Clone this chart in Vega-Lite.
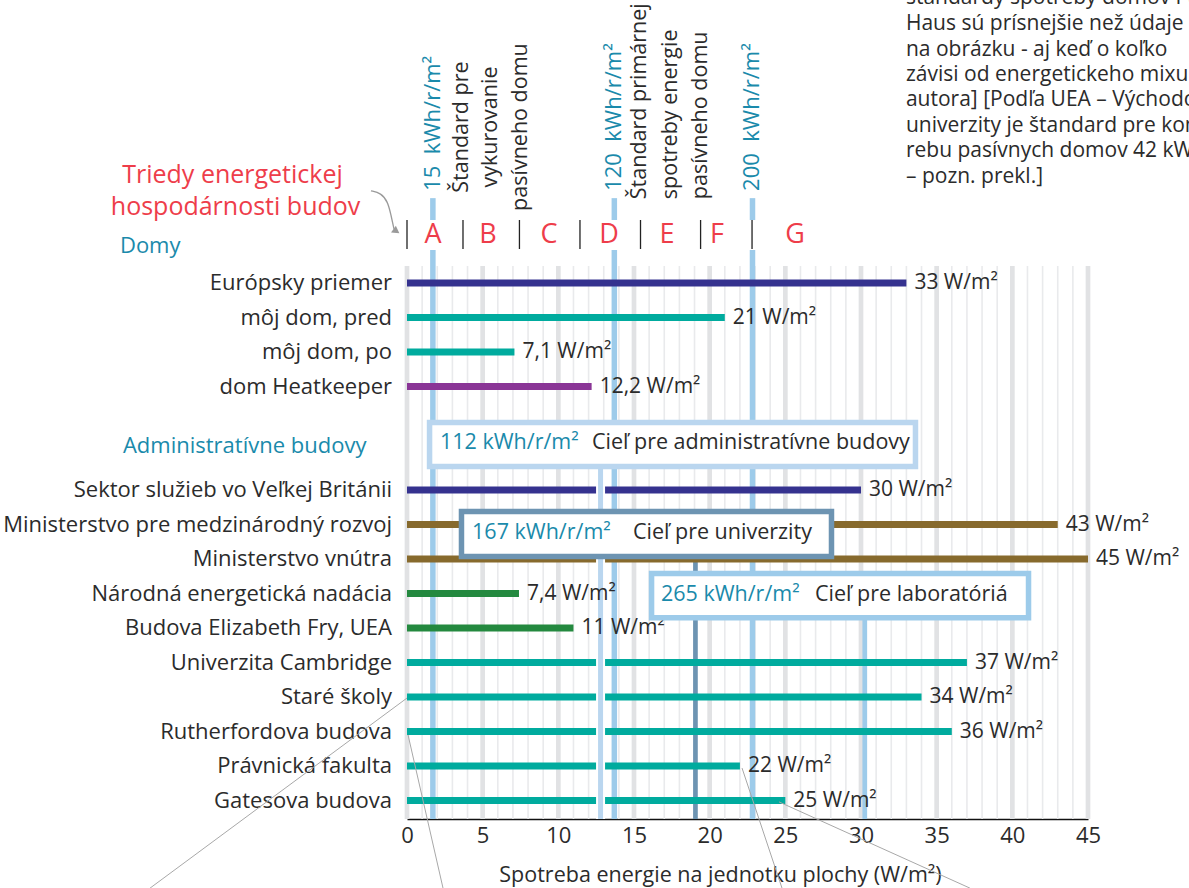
{
  "$schema": "https://vega.github.io/schema/vega-lite/v6.json",
  "width": 681,
  "height": 553,
  "autosize": {"type": "none"},
  "padding": {"left": 407, "top": 266, "right": 101, "bottom": 69},
  "background": "white",
  "config": {
    "view": {"stroke": null},
    "font": "Open Sans",
    "axisX": {
      "domainColor": "#111111", "domainWidth": 1.5, "ticks": false, "grid": false, "labelFlush": false, "labelOverlap": false,
      "labelFont": "Open Sans", "labelFontSize": 22, "labelColor": "#2b2b2b", "labelPadding": 6,
      "titleFont": "Open Sans", "titleFontSize": 21.5, "titleFontWeight": "normal", "titleColor": "#2b2b2b", "titlePadding": 18
    }
  },
  "datasets": {
    "bars": [
      {"name": "Európsky priemer", "row": 0, "from": 0, "value": 33, "kind": "priemer", "label": "33 W/m²"},
      {"name": "môj dom, pred", "row": 1, "from": 0, "value": 21, "kind": "autor", "label": "21 W/m²"},
      {"name": "môj dom, po", "row": 2, "from": 0, "value": 7.1, "kind": "autor", "label": "7,1 W/m²"},
      {"name": "dom Heatkeeper", "row": 3, "from": 0, "value": 12.2, "kind": "Heatkeeper", "label": "12,2 W/m²"},
      {"name": "Sektor služieb vo Veľkej Británii", "row": 6, "from": 0, "value": 30, "kind": "priemer", "label": "30 W/m²"},
      {"name": "Ministerstvo pre medzinárodný rozvoj", "row": 7, "from": 0, "value": 43, "kind": "ministerstvo", "label": "43 W/m²"},
      {"name": "Ministerstvo vnútra", "row": 8, "from": 0, "value": 45, "kind": "ministerstvo", "label": "45 W/m²"},
      {"name": "Národná energetická nadácia", "row": 9, "from": 0, "value": 7.4, "kind": "nízkoenergetické", "label": "7,4 W/m²"},
      {"name": "Budova Elizabeth Fry, UEA", "row": 10, "from": 0, "value": 11, "kind": "nízkoenergetické", "label": "11 W/m²"},
      {"name": "Univerzita Cambridge", "row": 11, "from": 0, "value": 37, "kind": "autor", "label": "37 W/m²"},
      {"name": "Staré školy", "row": 12, "from": 0, "value": 34, "kind": "autor", "label": "34 W/m²"},
      {"name": "Rutherfordova budova", "row": 13, "from": 0, "value": 36, "kind": "autor", "label": "36 W/m²"},
      {"name": "Právnická fakulta", "row": 14, "from": 0, "value": 22, "kind": "autor", "label": "22 W/m²"},
      {"name": "Gatesova budova", "row": 15, "from": 0, "value": 25, "kind": "autor", "label": "25 W/m²"}
    ],
    "stripes": [
      {"v": 0, "major": true}, {"v": 1, "major": false}, {"v": 2, "major": false}, {"v": 3, "major": false}, {"v": 4, "major": false},
      {"v": 5, "major": true}, {"v": 6, "major": false}, {"v": 7, "major": false}, {"v": 8, "major": false}, {"v": 9, "major": false},
      {"v": 10, "major": true}, {"v": 11, "major": false}, {"v": 12, "major": false}, {"v": 13, "major": false}, {"v": 14, "major": false},
      {"v": 15, "major": true}, {"v": 16, "major": false}, {"v": 17, "major": false}, {"v": 18, "major": false}, {"v": 19, "major": false},
      {"v": 20, "major": true}, {"v": 21, "major": false}, {"v": 22, "major": false}, {"v": 23, "major": false}, {"v": 24, "major": false},
      {"v": 25, "major": true}, {"v": 26, "major": false}, {"v": 27, "major": false}, {"v": 28, "major": false}, {"v": 29, "major": false},
      {"v": 30, "major": true}, {"v": 31, "major": false}, {"v": 32, "major": false}, {"v": 33, "major": false}, {"v": 34, "major": false},
      {"v": 35, "major": true}, {"v": 36, "major": false}, {"v": 37, "major": false}, {"v": 38, "major": false}, {"v": 39, "major": false},
      {"v": 40, "major": true}, {"v": 41, "major": false}, {"v": 42, "major": false}, {"v": 43, "major": false}, {"v": 44, "major": false},
      {"v": 45, "major": true}
    ],
    "segs": [
      {"kind": "std", "x": 1.71, "y": -2.46, "y2": -1.826},
      {"kind": "std", "x": 13.7, "y": -2.46, "y2": -1.826},
      {"kind": "std", "x": 22.83, "y": -2.46, "y2": -1.826},
      {"kind": "std", "x": 1.71, "y": -0.957, "y2": 15.536},
      {"kind": "std", "x": 13.7, "y": -0.957, "y2": 15.536},
      {"kind": "std", "x": 22.83, "y": -0.957, "y2": 15.536},
      {"kind": "univ", "x": 19.06, "y": 7.5, "y2": 15.536},
      {"kind": "labs", "x": 30.25, "y": 9.2, "y2": 15.536},
      {"kind": "admin", "x": 12.79, "y": 5.0, "y2": 15.536},
      {"kind": "bound", "x": 0, "y": -1.826, "y2": -0.986},
      {"kind": "bound", "x": 3.7, "y": -1.826, "y2": -0.986},
      {"kind": "bound", "x": 7.43, "y": -1.826, "y2": -0.986},
      {"kind": "bound", "x": 11.43, "y": -1.826, "y2": -0.986},
      {"kind": "bound", "x": 15.43, "y": -1.826, "y2": -0.986},
      {"kind": "bound", "x": 19.4, "y": -1.826, "y2": -0.986},
      {"kind": "bound", "x": 22.8, "y": -1.826, "y2": -0.986}
    ],
    "boxes": [
      {"kwh": 112, "x": 1.49, "x2": 33.6, "y": 4.04, "y2": 5.32},
      {"kwh": 167, "x": 3.6, "x2": 28.05, "y": 6.62, "y2": 7.93},
      {"kwh": 265, "x": 16.16, "x2": 41.07, "y": 8.42, "y2": 9.7}
    ],
    "notes": [
      {"kind": "header", "x": -18.97, "y": -1.07, "text": "Domy"},
      {"kind": "header", "x": -18.77, "y": 4.72, "text": "Administratívne budovy"},
      {"kind": "title", "x": -11.53, "y": -3.13, "text": "Triedy energetickej"},
      {"kind": "title", "x": -11.33, "y": -2.2, "text": "hospodárnosti budov"},
      {"kind": "class", "x": 1.72, "y": -1.39, "text": "A"},
      {"kind": "class", "x": 5.35, "y": -1.39, "text": "B"},
      {"kind": "class", "x": 9.38, "y": -1.39, "text": "C"},
      {"kind": "class", "x": 13.35, "y": -1.39, "text": "D"},
      {"kind": "class", "x": 17.18, "y": -1.39, "text": "E"},
      {"kind": "class", "x": 20.49, "y": -1.39, "text": "F"},
      {"kind": "class", "x": 25.64, "y": -1.39, "text": "G"},
      {"kind": "std", "x": 1.71, "y": -2.67, "text": "15\u00a0\u00a0kWh/r/m²"},
      {"kind": "std", "x": 13.7, "y": -2.67, "text": "120\u00a0\u00a0kWh/r/m²"},
      {"kind": "std", "x": 22.83, "y": -2.67, "text": "200\u00a0\u00a0kWh/r/m²"},
      {"kind": "desc1", "x": 3.63, "y": -4.52, "text": "Štandard pre"},
      {"kind": "desc1", "x": 5.55, "y": -4.52, "text": "vykurovanie"},
      {"kind": "desc1", "x": 7.53, "y": -4.52, "text": "pasívneho domu"},
      {"kind": "desc2", "x": 15.4, "y": -2.43, "text": "Štandard primárnej"},
      {"kind": "desc2", "x": 17.45, "y": -2.43, "text": "spotreby energie"},
      {"kind": "desc2", "x": 19.43, "y": -2.43, "text": "pasívneho domu"},
      {"kind": "boxkwh", "x": 2.18, "y": 4.64, "text": "112 kWh/r/m²"},
      {"kind": "boxkwh", "x": 4.3, "y": 7.25, "text": "167 kWh/r/m²"},
      {"kind": "boxkwh", "x": 16.78, "y": 9.04, "text": "265 kWh/r/m²"},
      {"kind": "boxtext", "x": 12.22, "y": 4.64, "text": "Cieľ pre administratívne budovy"},
      {"kind": "boxtext", "x": 14.93, "y": 7.25, "text": "Cieľ pre univerzity"},
      {"kind": "boxtext", "x": 26.96, "y": 9.04, "text": "Cieľ pre laboratóriá"},
      {"kind": "foot", "x": 32.97, "y": -8.247, "text": "štandardy spotreby domov Passiv"},
      {"kind": "foot", "x": 32.97, "y": -7.507, "text": "Haus sú prísnejšie než údaje"},
      {"kind": "foot", "x": 32.97, "y": -6.768, "text": "na obrázku - aj keď o koľko"},
      {"kind": "foot", "x": 32.97, "y": -6.029, "text": "závisi od energetickeho mixu"},
      {"kind": "foot", "x": 32.97, "y": -5.29, "text": "autora] [Podľa UEA – Východoanglickej"},
      {"kind": "foot", "x": 32.97, "y": -4.551, "text": "univerzity je štandard pre konečnú spot-"},
      {"kind": "foot", "x": 32.97, "y": -3.812, "text": "rebu pasívnych domov 42 kWh/r/m²"},
      {"kind": "foot", "x": 32.97, "y": -3.072, "text": "– pozn. prekl.]"}
    ],
    "arrow": [
      {"ax": -2.38, "ay": -2.67}, {"ax": -1.72, "ay": -2.61}, {"ax": -1.26, "ay": -2.35},
      {"ax": -1.06, "ay": -1.97}, {"ax": -0.86, "ay": -1.57}
    ],
    "arrowhead": [{"ax": -0.7, "ay": -1.5}],
    "leaders": [
      {"x1": 0, "y1": 12.03, "x2": -16.98, "y2": 17.54},
      {"x1": 0.07, "y1": 13.1, "x2": 2.38, "y2": 17.54},
      {"x1": 22.14, "y1": 14.06, "x2": 24.78, "y2": 17.54},
      {"x1": 24.58, "y1": 15.04, "x2": 37.2, "y2": 17.54}
    ]
  },
  "layer": [
    {
      "data": {"name": "stripes"},
      "transform": [{"filter": "!datum.major"}],
      "mark": {"type": "rule", "color": "#e9eaec", "strokeWidth": 1.6},
      "encoding": {
        "x": {"field": "v", "type": "quantitative", "scale": {"domain": [0, 45], "nice": false, "zero": false},
              "axis": {"values": [0, 5, 10, 15, 20, 25, 30, 35, 40, 45], "title": "Spotreba energie na jednotku plochy (W/m²)", "titleX": 313}}
      }
    },
    {
      "data": {"name": "stripes"},
      "transform": [{"filter": "datum.major"}],
      "mark": {"type": "rule", "color": "#e1e2e4", "strokeWidth": 4.7},
      "encoding": {
        "x": {"field": "v", "type": "quantitative"}
      }
    },
    {
      "data": {"name": "segs"},
      "transform": [{"filter": "datum.kind === 'std'"}],
      "mark": {"type": "rule", "color": "#9dcbea", "strokeWidth": 5.5},
      "encoding": {
        "x": {"field": "x", "type": "quantitative"},
        "y": {"field": "y", "type": "quantitative", "scale": {"domain": [-0.4928, 15.536], "nice": false, "zero": false, "reverse": true}, "axis": null},
        "y2": {"field": "y2"}
      }
    },
    {
      "data": {"name": "segs"},
      "transform": [{"filter": "datum.kind === 'univ'"}],
      "mark": {"type": "rule", "color": "#6d94b2", "strokeWidth": 4.7},
      "encoding": {
        "x": {"field": "x", "type": "quantitative"},
        "y": {"field": "y", "type": "quantitative", "axis": null},
        "y2": {"field": "y2"}
      }
    },
    {
      "data": {"name": "segs"},
      "transform": [{"filter": "datum.kind === 'labs'"}],
      "mark": {"type": "rule", "color": "#9dcbea", "strokeWidth": 4.7},
      "encoding": {
        "x": {"field": "x", "type": "quantitative"},
        "y": {"field": "y", "type": "quantitative", "axis": null},
        "y2": {"field": "y2"}
      }
    },
    {
      "data": {"name": "bars"},
      "mark": {"type": "rule", "strokeWidth": 7, "strokeCap": "butt"},
      "encoding": {
        "x": {"field": "from", "type": "quantitative"},
        "x2": {"field": "value"},
        "y": {"field": "row", "type": "quantitative", "axis": null},
        "color": {"field": "kind", "type": "nominal", "legend": null,
                  "scale": {"domain": ["priemer", "autor", "Heatkeeper", "ministerstvo", "nízkoenergetické"],
                            "range": ["#35328f", "#00ab9e", "#8a3596", "#876a2d", "#24893f"]}}
      }
    },
    {
      "data": {"name": "segs"},
      "transform": [{"filter": "datum.kind === 'admin'"}],
      "mark": {"type": "rule", "color": "white", "strokeWidth": 9},
      "encoding": {
        "x": {"field": "x", "type": "quantitative"},
        "y": {"field": "y", "type": "quantitative", "axis": null},
        "y2": {"field": "y2"}
      }
    },
    {
      "data": {"name": "segs"},
      "transform": [{"filter": "datum.kind === 'admin'"}],
      "mark": {"type": "rule", "color": "#bad6ef", "strokeWidth": 5},
      "encoding": {
        "x": {"field": "x", "type": "quantitative"},
        "y": {"field": "y", "type": "quantitative", "axis": null},
        "y2": {"field": "y2"}
      }
    },
    {
      "data": {"name": "bars"},
      "mark": {"type": "text", "align": "left", "baseline": "middle", "dx": 8, "fontSize": 21, "fill": "#2b2b2b", "font": "Open Sans"},
      "encoding": {
        "x": {"field": "value", "type": "quantitative"},
        "y": {"field": "row", "type": "quantitative", "axis": null},
        "text": {"field": "label", "type": "nominal"}
      }
    },
    {
      "data": {"name": "boxes"},
      "transform": [{"filter": "datum.kwh === 112"}],
      "mark": {"type": "rect", "fill": "white", "stroke": "#bad6ef", "strokeWidth": 5.5},
      "encoding": {
        "x": {"field": "x", "type": "quantitative"}, "x2": {"field": "x2"},
        "y": {"field": "y", "type": "quantitative", "axis": null}, "y2": {"field": "y2"}
      }
    },
    {
      "data": {"name": "boxes"},
      "transform": [{"filter": "datum.kwh === 167"}],
      "mark": {"type": "rect", "fill": "white", "stroke": "#6d94b2", "strokeWidth": 5.5},
      "encoding": {
        "x": {"field": "x", "type": "quantitative"}, "x2": {"field": "x2"},
        "y": {"field": "y", "type": "quantitative", "axis": null}, "y2": {"field": "y2"}
      }
    },
    {
      "data": {"name": "boxes"},
      "transform": [{"filter": "datum.kwh === 265"}],
      "mark": {"type": "rect", "fill": "white", "stroke": "#9dcbea", "strokeWidth": 5.5},
      "encoding": {
        "x": {"field": "x", "type": "quantitative"}, "x2": {"field": "x2"},
        "y": {"field": "y", "type": "quantitative", "axis": null}, "y2": {"field": "y2"}
      }
    },
    {
      "data": {"name": "notes"},
      "transform": [{"filter": "datum.kind === 'boxkwh'"}],
      "mark": {"type": "text", "align": "left", "baseline": "middle", "fontSize": 21.5, "fill": "#1a8aab", "font": "Open Sans"},
      "encoding": {
        "x": {"field": "x", "type": "quantitative"},
        "y": {"field": "y", "type": "quantitative", "axis": null},
        "text": {"field": "text", "type": "nominal"}
      }
    },
    {
      "data": {"name": "notes"},
      "transform": [{"filter": "datum.kind === 'header'"}],
      "mark": {"type": "text", "align": "left", "baseline": "middle", "fontSize": 22, "fill": "#1a8aab", "font": "Open Sans"},
      "encoding": {
        "x": {"field": "x", "type": "quantitative"},
        "y": {"field": "y", "type": "quantitative", "axis": null},
        "text": {"field": "text", "type": "nominal"}
      }
    },
    {
      "data": {"name": "notes"},
      "transform": [{"filter": "datum.kind === 'boxtext'"}],
      "mark": {"type": "text", "align": "left", "baseline": "middle", "fontSize": 21.5, "fill": "#2b2b2b", "font": "Open Sans"},
      "encoding": {
        "x": {"field": "x", "type": "quantitative"},
        "y": {"field": "y", "type": "quantitative", "axis": null},
        "text": {"field": "text", "type": "nominal"}
      }
    },
    {
      "data": {"name": "notes"},
      "transform": [{"filter": "datum.kind === 'foot'"}],
      "mark": {"type": "text", "align": "left", "baseline": "middle", "fontSize": 21, "fill": "#2b2b2b", "font": "Open Sans"},
      "encoding": {
        "x": {"field": "x", "type": "quantitative"},
        "y": {"field": "y", "type": "quantitative", "axis": null},
        "text": {"field": "text", "type": "nominal"}
      }
    },
    {
      "data": {"name": "bars"},
      "mark": {"type": "text", "align": "right", "baseline": "middle", "dx": -15, "fontSize": 22, "fill": "#2b2b2b", "font": "Open Sans"},
      "encoding": {
        "x": {"field": "from", "type": "quantitative"},
        "y": {"field": "row", "type": "quantitative", "axis": null},
        "text": {"field": "name", "type": "nominal"}
      }
    },
    {
      "data": {"name": "notes"},
      "transform": [{"filter": "datum.kind === 'title'"}],
      "mark": {"type": "text", "align": "center", "baseline": "middle", "fontSize": 25, "fill": "#ee3d4a", "font": "Open Sans"},
      "encoding": {
        "x": {"field": "x", "type": "quantitative"},
        "y": {"field": "y", "type": "quantitative", "axis": null},
        "text": {"field": "text", "type": "nominal"}
      }
    },
    {
      "data": {"name": "notes"},
      "transform": [{"filter": "datum.kind === 'class'"}],
      "mark": {"type": "text", "align": "center", "baseline": "middle", "fontSize": 27, "fill": "#ee3d4a", "font": "Open Sans"},
      "encoding": {
        "x": {"field": "x", "type": "quantitative"},
        "y": {"field": "y", "type": "quantitative", "axis": null},
        "text": {"field": "text", "type": "nominal"}
      }
    },
    {
      "data": {"name": "notes"},
      "transform": [{"filter": "datum.kind === 'std'"}],
      "mark": {"type": "text", "angle": 270, "align": "left", "baseline": "middle", "fontSize": 22, "fill": "#1a8aab", "font": "Open Sans"},
      "encoding": {
        "x": {"field": "x", "type": "quantitative"},
        "y": {"field": "y", "type": "quantitative", "axis": null},
        "text": {"field": "text", "type": "nominal"}
      }
    },
    {
      "data": {"name": "notes"},
      "transform": [{"filter": "datum.kind === 'desc1'"}],
      "mark": {"type": "text", "angle": 270, "align": "center", "baseline": "middle", "fontSize": 21.5, "fill": "#2b2b2b", "font": "Open Sans"},
      "encoding": {
        "x": {"field": "x", "type": "quantitative"},
        "y": {"field": "y", "type": "quantitative", "axis": null},
        "text": {"field": "text", "type": "nominal"}
      }
    },
    {
      "data": {"name": "notes"},
      "transform": [{"filter": "datum.kind === 'desc2'"}],
      "mark": {"type": "text", "angle": 270, "align": "left", "baseline": "middle", "fontSize": 21.5, "fill": "#2b2b2b", "font": "Open Sans"},
      "encoding": {
        "x": {"field": "x", "type": "quantitative"},
        "y": {"field": "y", "type": "quantitative", "axis": null},
        "text": {"field": "text", "type": "nominal"}
      }
    },
    {
      "data": {"name": "segs"},
      "transform": [{"filter": "datum.kind === 'bound'"}],
      "mark": {"type": "rule", "color": "#222222", "strokeWidth": 1.3},
      "encoding": {
        "x": {"field": "x", "type": "quantitative"},
        "y": {"field": "y", "type": "quantitative", "axis": null},
        "y2": {"field": "y2"}
      }
    },
    {
      "data": {"name": "arrow"},
      "mark": {"type": "line", "color": "#9a9a9a", "strokeWidth": 1.3, "interpolate": "basis"},
      "encoding": {
        "x": {"field": "ax", "type": "quantitative"},
        "y": {"field": "ay", "type": "quantitative", "axis": null}
      }
    },
    {
      "data": {"name": "arrowhead"},
      "mark": {"type": "point", "shape": "triangle-right", "filled": true, "color": "#9a9a9a", "size": 70, "angle": 35, "opacity": 1},
      "encoding": {
        "x": {"field": "ax", "type": "quantitative"},
        "y": {"field": "ay", "type": "quantitative", "axis": null}
      }
    },
    {
      "data": {"name": "leaders"},
      "mark": {"type": "rule", "color": "#a8a8a8", "strokeWidth": 1},
      "encoding": {
        "x": {"field": "x1", "type": "quantitative"},
        "y": {"field": "y1", "type": "quantitative", "axis": null},
        "x2": {"field": "x2"},
        "y2": {"field": "y2"}
      }
    }
  ]
}
